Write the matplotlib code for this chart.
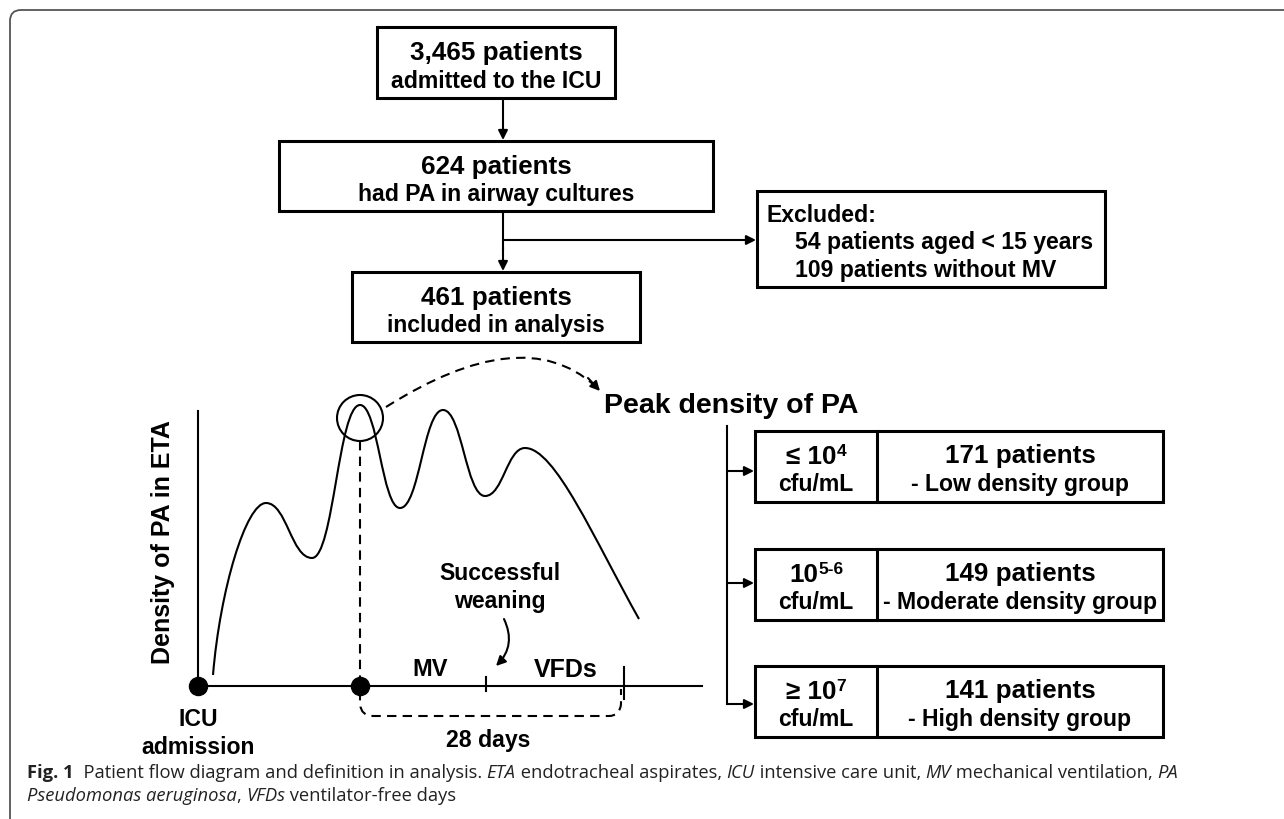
import matplotlib
matplotlib.use('Agg')
import matplotlib.pyplot as plt
from matplotlib.patches import Rectangle, Circle, PathPatch, FancyBboxPatch
from matplotlib.path import Path

plt.rcParams['font.family'] = ['Liberation Sans', 'DejaVu Sans']

# Flow chart content
flow_counts = ['3,465 patients', '624 patients', '461 patients']
flow_notes = ['admitted to the ICU', 'had PA in airway cultures', 'included in analysis']
excluded_title = 'Excluded:'
excluded_items = ['54 patients aged < 15 years', '109 patients without MV']

# Peak density groups
group_prefix = ['\u2264 10', '10', '\u2265 10']
group_exponent = ['4', '5-6', '7']
group_unit = 'cfu/mL'
group_counts = [171, 149, 141]
group_names = ['- Low density group', '- Moderate density group', '- High density group']

# Schematic density curve: extrema (x, y) in pixel space
curve_start = (213, 676)
curve_extrema = [(266, 504), (312, 559), (360, 406), (400, 509),
                 (443, 411), (485, 497), (525, 449)]
curve_end = (639, 620)

caption_line1 = [('Fig. 1', 'bold', 'normal'),
                 ('  Patient flow diagram and definition in analysis. ', 'normal', 'normal'),
                 ('ETA', 'normal', 'italic'), (' endotracheal aspirates, ', 'normal', 'normal'),
                 ('ICU', 'normal', 'italic'), (' intensive care unit, ', 'normal', 'normal'),
                 ('MV', 'normal', 'italic'), (' mechanical ventilation, ', 'normal', 'normal'),
                 ('PA', 'normal', 'italic')]
caption_line2 = [('Pseudomonas aeruginosa', 'normal', 'italic'), (', ', 'normal', 'normal'),
                 ('VFDs', 'normal', 'italic'), (' ventilator-free days', 'normal', 'normal')]

W, H = 1284, 820
fig = plt.figure(figsize=(W / 100, H / 100), dpi=100)
ax = fig.add_axes([0, 0, 1, 1])
ax.set_xlim(0, W)
ax.set_ylim(H, 0)
ax.axis('off')
renderer = fig.canvas.get_renderer()

BIG = 18.7
SMALL = 16.6
LW_BOX = 2.2
LW = 1.5


def box(x0, y0, x1, y1):
    ax.add_patch(Rectangle((x0, y0), x1 - x0, y1 - y0, fill=False, lw=LW_BOX, ec='black'))


def arrow(x0, y0, x1, y1):
    ax.annotate('', xy=(x1, y1), xytext=(x0, y0),
                arrowprops=dict(arrowstyle='-|>', mutation_scale=14, lw=LW, color='black',
                                shrinkA=0, shrinkB=0))


def runs(x, y, parts, ha='center'):
    # parts: (text, size, weight, style, rise)
    items = []
    total = 0
    for txt, size, weight, style, rise in parts:
        t = ax.text(0, y - rise, txt, fontsize=size, fontweight=weight, fontstyle=style,
                    va='baseline', ha='left')
        w = t.get_window_extent(renderer).width
        items.append((t, w))
        total += w
    cx = x - total / 2 if ha == 'center' else x
    for t, w in items:
        t.set_x(cx)
        cx += w
    return total


# outer frame
ax.add_patch(FancyBboxPatch((10, 11), 1400, 900, boxstyle='round,pad=0,rounding_size=11',
                            fill=False, ec='#555555', lw=1.3, clip_on=True))

# flow boxes
flow_boxes = [(377, 28, 615, 99), (279, 142, 713, 212), (352, 273, 640, 343)]
for (x0, y0, x1, y1), c, n in zip(flow_boxes, flow_counts, flow_notes):
    box(x0, y0, x1, y1)
    cx = (x0 + x1) / 2
    ax.text(cx, y0 + 25, c, fontsize=BIG, fontweight='bold', ha='center', va='center')
    ax.text(cx, y0 + 53, n, fontsize=SMALL, fontweight='bold', ha='center', va='center')

arrow(503, 101, 503, 141)
ax.plot([503, 503], [214, 250], color='black', lw=LW)
arrow(503, 248, 503, 272)
arrow(503, 241, 756, 241)

box(757, 192, 1105, 288)
ax.text(767, 215, excluded_title, fontsize=SMALL, fontweight='bold', ha='left', va='center')
for i, item in enumerate(excluded_items):
    ax.text(795, 243 + 27.5 * i, item, fontsize=SMALL, fontweight='bold', ha='left', va='center')

# schematic curve (cubic Bezier between extrema)
verts = [curve_start]
codes = [Path.MOVETO]
p0 = curve_start
p1 = curve_extrema[0]
verts += [(p0[0] + 7, p0[1] - 85), (p1[0] - 20, p1[1]), p1]
codes += [Path.CURVE4] * 3
for a, b in zip(curve_extrema[:-1], curve_extrema[1:]):
    dx = (b[0] - a[0]) * 0.45
    verts += [(a[0] + dx, a[1]), (b[0] - dx, b[1]), b]
    codes += [Path.CURVE4] * 3
a = curve_extrema[-1]
verts += [(a[0] + 30, a[1]), (curve_end[0] - 45, curve_end[1] - 80), curve_end]
codes += [Path.CURVE4] * 3
ax.add_patch(PathPatch(Path(verts, codes), fill=False, lw=LW, ec='black'))

# axes of schematic
ax.plot([198, 198], [412, 687], color='black', lw=LW)
ax.plot([198, 702], [687, 687], color='black', lw=LW)
ax.plot([198, 360], [687, 687], 'o', color='black', markersize=13)
ax.text(163, 542, 'Density of PA in ETA', fontsize=18, fontweight='bold', rotation=90,
        ha='center', va='center')

# peak marker
peak = curve_extrema[2]
ax.add_patch(Circle((peak[0], 419), 23, fill=False, lw=LW, ec='black'))
ax.plot([peak[0], peak[0]], [442, 687], color='black', lw=LW, dashes=(4.5, 3))

# dashed arc to "Peak density of PA"
arc = Path([(386, 408), (522, 322), (594, 386)], [Path.MOVETO, Path.CURVE3, Path.CURVE3])
ax.add_patch(PathPatch(arc, fill=False, lw=LW, ec='black', linestyle=(0, (4.5, 3))))
arrow(588, 379, 600, 392)
ax.text(731, 406, 'Peak density of PA', fontsize=20.5, fontweight='bold', ha='center', va='center')

# timeline marks
ax.plot([486, 486], [678, 692], color='black', lw=LW)
ax.plot([624, 624], [668, 700], color='black', lw=LW)
bracket = Path([(360, 692), (360, 705), (361, 717), (373, 717), (609, 717), (620, 717), (621, 705),
                (621, 690)],
               [Path.MOVETO, Path.LINETO, Path.CURVE3, Path.CURVE3, Path.LINETO, Path.CURVE3,
                Path.CURVE3, Path.LINETO])
ax.add_patch(PathPatch(bracket, fill=False, lw=LW, ec='black', linestyle=(0, (4.5, 3))))

ax.text(430, 670, 'MV', fontsize=17, fontweight='bold', ha='center', va='center')
ax.text(566, 670, 'VFDs', fontsize=18, fontweight='bold', ha='center', va='center')
ax.text(500, 574, 'Successful', fontsize=SMALL, fontweight='bold', ha='center', va='center')
ax.text(500, 602, 'weaning', fontsize=SMALL, fontweight='bold', ha='center', va='center')
ax.annotate('', xy=(496, 667), xytext=(504, 620),
            arrowprops=dict(arrowstyle='-|>', mutation_scale=14, lw=LW, color='black',
                            shrinkA=0, shrinkB=0, connectionstyle='arc3,rad=-0.35'))
ax.text(198, 720, 'ICU', fontsize=SMALL, fontweight='bold', ha='center', va='center')
ax.text(198, 748, 'admission', fontsize=SMALL, fontweight='bold', ha='center', va='center')
ax.text(488, 741, '28 days', fontsize=SMALL, fontweight='bold', ha='center', va='center')

# group boxes
group_tops = [432, 550, 667]
group_arrows = [472, 584, 705]
ax.plot([727, 727], [427, group_arrows[-1]], color='black', lw=LW)
for top, ay, pre, ex, n, name in zip(group_tops, group_arrows, group_prefix, group_exponent,
                                     group_counts, group_names):
    box(755, top, 1163, top + 71)
    ax.plot([877, 877], [top, top + 71], color='black', lw=LW_BOX)
    arrow(727, ay, 754, ay)
    runs(816, top + 32, [(pre, BIG, 'bold', 'normal', 0), (ex, 12.5, 'bold', 'normal', 8)])
    ax.text(816, top + 53, group_unit, fontsize=SMALL, fontweight='bold', ha='center', va='center')
    ax.text(1020, top + 24, f'{n} patients', fontsize=BIG, fontweight='bold', ha='center', va='center')
    ax.text(1020, top + 53, name, fontsize=SMALL, fontweight='bold', ha='center', va='center')

# caption
cap_font = 'Open Sans'
cap_size = 13.2
for line, yb in ((caption_line1, 778), (caption_line2, 801)):
    x = 27
    for txt, weight, style in line:
        t = ax.text(x, yb, txt, fontsize=cap_size, fontweight=weight, fontstyle=style,
                    family=cap_font, va='baseline', ha='left', color='#222222')
        x += t.get_window_extent(renderer).width

fig.savefig('out.png', dpi=100)
